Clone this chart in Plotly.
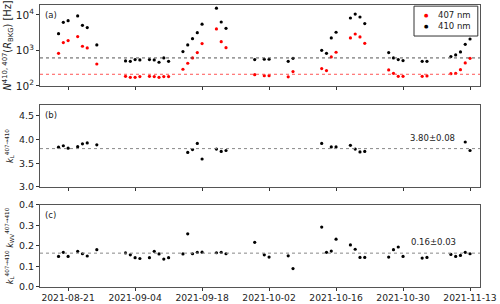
import plotly.graph_objects as go
from plotly.subplots import make_subplots

dates = ["2021-08-19", "2021-08-20", "2021-08-21", "2021-08-23", "2021-08-24", "2021-08-25", "2021-08-27",
         "2021-09-02", "2021-09-03", "2021-09-04", "2021-09-05", "2021-09-07", "2021-09-08", "2021-09-09", "2021-09-10", "2021-09-11",
         "2021-09-14", "2021-09-15", "2021-09-16", "2021-09-17", "2021-09-18", "2021-09-21", "2021-09-22", "2021-09-23",
         "2021-09-29", "2021-10-01", "2021-10-02", "2021-10-06", "2021-10-07",
         "2021-10-13", "2021-10-14", "2021-10-15", "2021-10-16", "2021-10-19", "2021-10-20", "2021-10-21", "2021-10-22",
         "2021-10-27", "2021-10-28", "2021-10-29", "2021-10-30", "2021-11-03", "2021-11-04",
         "2021-11-09", "2021-11-10", "2021-11-11", "2021-11-12", "2021-11-13"]

n410 = [2960, 6200, 6900, 9400, 5100, 4400, 1430,
        505, 495, 553, 540, 553, 540, 465, 615, 495,
        927, 1430, 2150, 3170, 5480, 15500, 6330, 4200,
        553, 565, 565, 495, 600,
        1010, 830, 2250, 3250, 8200, 10600, 8750, 5700,
        870, 615, 553, 518, 495, 495,
        670, 745, 910, 1490, 2100]

n407 = [830, 1660, 1900, 2450, 1310, 1180, 415,
        187, 175, 175, 183, 187, 183, 175, 183, 183,
        295, 435, 615, 870, 1560, 4040, 1770, 1200,
        208, 195, 195, 180, 253,
        308, 270, 655, 890, 2250, 2900, 2400, 1590,
        282, 227, 187, 187, 187, 191,
        222, 227, 288, 445, 600]

dates_kl = ["2021-08-19", "2021-08-20", "2021-08-21", "2021-08-23", "2021-08-24", "2021-08-25", "2021-08-27",
            "2021-09-15", "2021-09-16", "2021-09-17", "2021-09-18", "2021-09-21", "2021-09-22", "2021-09-23",
            "2021-10-13", "2021-10-15", "2021-10-16", "2021-10-19", "2021-10-20", "2021-10-21", "2021-10-22",
            "2021-11-12", "2021-11-13"]
kl = [3.84, 3.87, 3.82, 3.85, 3.91, 3.93, 3.89,
      3.73, 3.79, 3.92, 3.59, 3.80, 3.75, 3.77,
      3.92, 3.845, 3.845, 3.88, 3.80, 3.74, 3.75,
      3.95, 3.77]

klwv = [0.149, 0.169, 0.149, 0.174, 0.162, 0.151, 0.182,
        0.166, 0.157, 0.143, 0.139, 0.143, 0.174, 0.161, 0.136, 0.143,
        0.161, 0.259, 0.162, 0.169, 0.170, 0.167, 0.169, 0.162,
        0.218, 0.157, 0.146, 0.152, 0.090,
        0.292, 0.169, 0.175, 0.233, 0.205, 0.184, 0.144, 0.144,
        0.146, 0.182, 0.195, 0.149, 0.141, 0.144,
        0.159, 0.149, 0.154, 0.169, 0.162]

mean_410 = 615
mean_407 = 213
mean_kl = 3.81
mean_klwv = 0.165
label_kl = "3.80±0.08"
label_klwv = "0.16±0.03"
legend_names = ["407 nm", "410 nm"]
legend_colors = ["red", "black"]

x_range = ["2021-08-15 03:00", "2021-11-15 02:00"]
tick_dates = ["2021-08-21", "2021-09-04", "2021-09-18", "2021-10-02", "2021-10-16", "2021-10-30", "2021-11-13"]

FONT = "DejaVu Sans"
FRAME = "#555555"
TXT = "#222222"

fig = make_subplots(rows=3, cols=1, shared_xaxes=True, vertical_spacing=0.0)

mk = dict(size=3.2, symbol="circle", line=dict(width=0))
fig.add_trace(go.Scatter(x=dates, y=n407, mode="markers", name=legend_names[0],
                         marker=dict(color=legend_colors[0], **mk)), row=1, col=1)
fig.add_trace(go.Scatter(x=dates, y=n410, mode="markers", name=legend_names[1],
                         marker=dict(color=legend_colors[1], **mk)), row=1, col=1)
fig.add_trace(go.Scatter(x=x_range, y=[mean_410, mean_410], mode="lines",
                         line=dict(color="#555555", width=1, dash="dot"), hoverinfo="skip"), row=1, col=1)
fig.add_trace(go.Scatter(x=x_range, y=[mean_407, mean_407], mode="lines",
                         line=dict(color="#ff5555", width=1, dash="dot"), hoverinfo="skip"), row=1, col=1)

fig.add_trace(go.Scatter(x=dates_kl, y=kl, mode="markers",
                         marker=dict(color="black", **mk)), row=2, col=1)
fig.add_trace(go.Scatter(x=x_range, y=[mean_kl, mean_kl], mode="lines",
                         line=dict(color="#888888", width=1, dash="dot"), hoverinfo="skip"), row=2, col=1)

fig.add_trace(go.Scatter(x=dates, y=klwv, mode="markers",
                         marker=dict(color="black", **mk)), row=3, col=1)
fig.add_trace(go.Scatter(x=x_range, y=[mean_klwv, mean_klwv], mode="lines",
                         line=dict(color="#888888", width=1, dash="dot"), hoverinfo="skip"), row=3, col=1)

axis_common = dict(showline=True, linecolor=FRAME, linewidth=1, mirror=True, showgrid=False,
                   zeroline=False, ticks="outside", ticklen=3, tickcolor="#333333", automargin=False)

for r in (1, 2, 3):
    fig.update_xaxes(range=x_range, type="date", tickvals=tick_dates, ticktext=tick_dates,
                     showticklabels=(r == 3), tickfont=dict(family=FONT, size=9.2, color=TXT),
                     ticklabelstandoff=-1, row=r, col=1, **axis_common)

fig.update_yaxes(type="log", range=[2, 4.28], tickvals=[100, 1000, 10000],
                 ticktext=["10<sup>2</sup>", "10<sup>3</sup>", "10<sup>4</sup>"],
                 tickfont=dict(family=FONT, size=10.5, color=TXT),
                 title=dict(text="<i>N</i><sup>410, 407</sup>(<i>R</i><sub>BKG</sub>) [Hz]",
                            font=dict(family=FONT, size=9.8, color=TXT), standoff=2),
                 row=1, col=1, **axis_common)
fig.update_yaxes(range=[3.0, 4.73], tickvals=[3.0, 3.5, 4.0, 4.5], ticktext=["3.0", "3.5", "4.0", "4.5"],
                 tickfont=dict(family=FONT, size=9.5, color=TXT),
                 title=dict(text="<i>k</i><sub>L</sub><sup>407→410</sup>",
                            font=dict(family=FONT, size=8, color=TXT), standoff=4),
                 row=2, col=1, **axis_common)
fig.update_yaxes(range=[0.0, 0.4], tickvals=[0.0, 0.1, 0.2, 0.3, 0.4], ticktext=["0.0", "0.1", "0.2", "0.3", "0.4"],
                 tickfont=dict(family=FONT, size=9.5, color=TXT),
                 title=dict(text="<i>k</i><sub>L</sub><sup>407→410</sup> <i>k</i><sub>WV</sub><sup>407→410</sup>",
                            font=dict(family=FONT, size=8, color=TXT), standoff=4),
                 row=3, col=1, **axis_common)

fig.update_layout(
    xaxis=dict(domain=[0, 1]),
    yaxis=dict(domain=[0.713, 1.0]),
    yaxis2=dict(domain=[0.355, 0.645]),
    yaxis3=dict(domain=[0.0, 0.291]),
)

for i, lab in enumerate(["(a)", "(b)", "(c)"]):
    sfx = "" if i == 0 else str(i + 1)
    fig.add_annotation(text=lab, xref=f"x{sfx} domain", yref=f"y{sfx} domain", x=0.006, y=0.88,
                       showarrow=False, xanchor="left", yanchor="middle",
                       font=dict(family=FONT, size=8.5, color=TXT))
fig.add_annotation(text=label_kl, xref="x2 domain", yref="y2 domain", x=0.893, y=0.6, showarrow=False,
                   xanchor="center", yanchor="middle", font=dict(family=FONT, size=8.5, color=TXT))
fig.add_annotation(text=label_klwv, xref="x3 domain", yref="y3 domain", x=0.895, y=0.55, showarrow=False,
                   xanchor="center", yanchor="middle", font=dict(family=FONT, size=8.5, color=TXT))

# custom compact legend
fig.add_shape(type="rect", xref="paper", yref="paper", x0=0.850, x1=0.995, y0=0.890, y1=0.996,
              line=dict(color="#333333", width=1), fillcolor="white", layer="above")
for i, (nm, col) in enumerate(zip(legend_names, legend_colors)):
    yy = 0.963 - i * 0.039
    fig.add_annotation(text="●", xref="paper", yref="paper", x=0.8795, y=yy, showarrow=False,
                       xanchor="center", yanchor="middle", font=dict(family=FONT, size=5, color=col))
    fig.add_annotation(text=nm, xref="paper", yref="paper", x=0.985, y=yy, showarrow=False,
                       xanchor="right", yanchor="middle", font=dict(family=FONT, size=8.5, color=TXT))

fig.update_layout(
    width=500, height=304,
    margin=dict(l=40, r=20, t=5, b=17),
    paper_bgcolor="white", plot_bgcolor="white",
    font=dict(family=FONT, size=9.5, color=TXT),
    showlegend=False,
)

fig.write_html("out.html", config={"displayModeBar": False},
               post_script="document.body.style.margin='0';document.body.style.overflow='hidden';")
